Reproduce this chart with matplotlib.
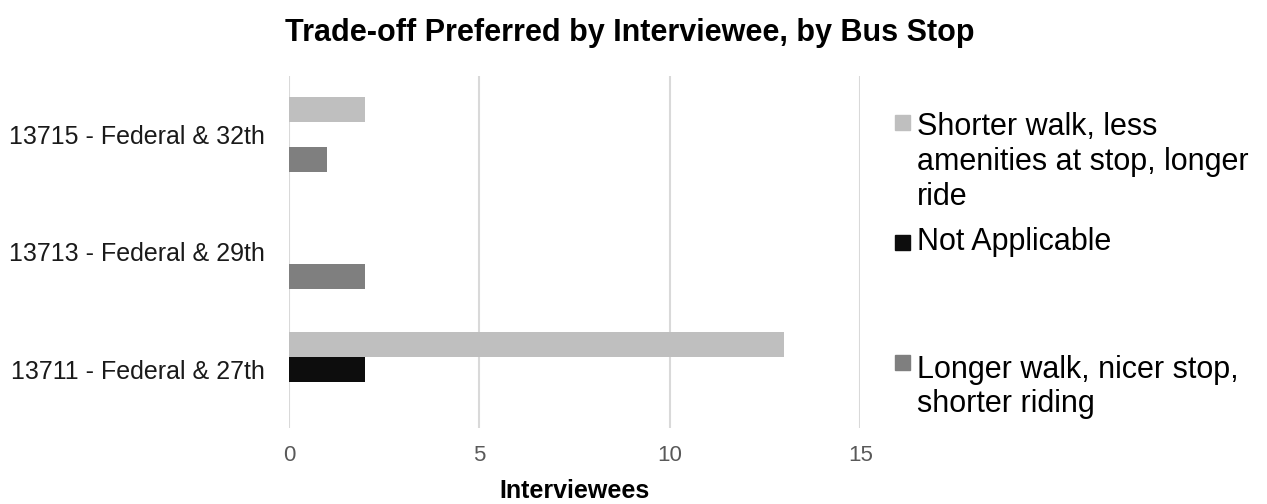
import numpy as np
import matplotlib.pyplot as plt
from matplotlib.patches import Rectangle

stops = ['13711 - Federal & 27th', '13713 - Federal & 29th', '13715 - Federal & 32th']
series = ['Shorter walk, less\namenities at stop, longer\nride',
          'Not Applicable',
          'Longer walk, nicer stop,\nshorter riding']
shorter_walk = [13, 0, 2]
not_applicable = [2, 0, 0]
longer_walk = [0, 2, 1]
colors = ['#bfbfbf', '#0d0d0d', '#7f7f7f']

plt.rcParams['font.family'] = ['Liberation Sans', 'DejaVu Sans']

fig = plt.figure(figsize=(12.67, 5.04), dpi=100)
ax = fig.add_axes([0.228, 0.151, 0.451, 0.699])

y = np.arange(len(stops))
h = 0.213
for i, (vals, c) in enumerate(zip([shorter_walk, not_applicable, longer_walk], colors)):
    ax.barh(y + h * (1 - i), vals, height=h, color=c, zorder=3)

ax.set_xlim(0, 15)
ax.set_ylim(-0.5, 2.5)
ax.set_xticks([0, 5, 10, 15])
ax.set_yticks(y)
ax.set_yticklabels(stops, fontsize=18, color='#1a1a1a')
ax.tick_params(axis='x', labelsize=16, labelcolor='#595959', length=0, pad=12)
ax.tick_params(axis='y', length=0, pad=17)
ax.grid(axis='x', color='#d9d9d9', linewidth=1.5, zorder=0)
for s in ax.spines.values():
    s.set_visible(False)

ax.set_xlabel('Interviewees', fontsize=18, fontweight='bold', labelpad=10)
fig.text(0.497, 0.935, 'Trade-off Preferred by Interviewee, by Bus Stop',
         ha='center', va='center', fontsize=22, fontweight='bold')

# legend drawn by hand to keep the uneven spacing
mark_bottom = [0.742, 0.504, 0.266]
text_top = [0.777, None, 0.2966]
for lab, c, mb, tt in zip(series, colors, mark_bottom, text_top):
    fig.patches.append(Rectangle((0.7065, mb), 0.0118, 0.0298, color=c,
                                 transform=fig.transFigure, figure=fig))
    if tt is None:
        fig.text(0.724, mb + 0.015, lab, ha='left', va='center', fontsize=22)
    else:
        fig.text(0.724, tt, lab, ha='left', va='top', fontsize=22, linespacing=1.21)

fig.savefig('out.png', dpi=100)
